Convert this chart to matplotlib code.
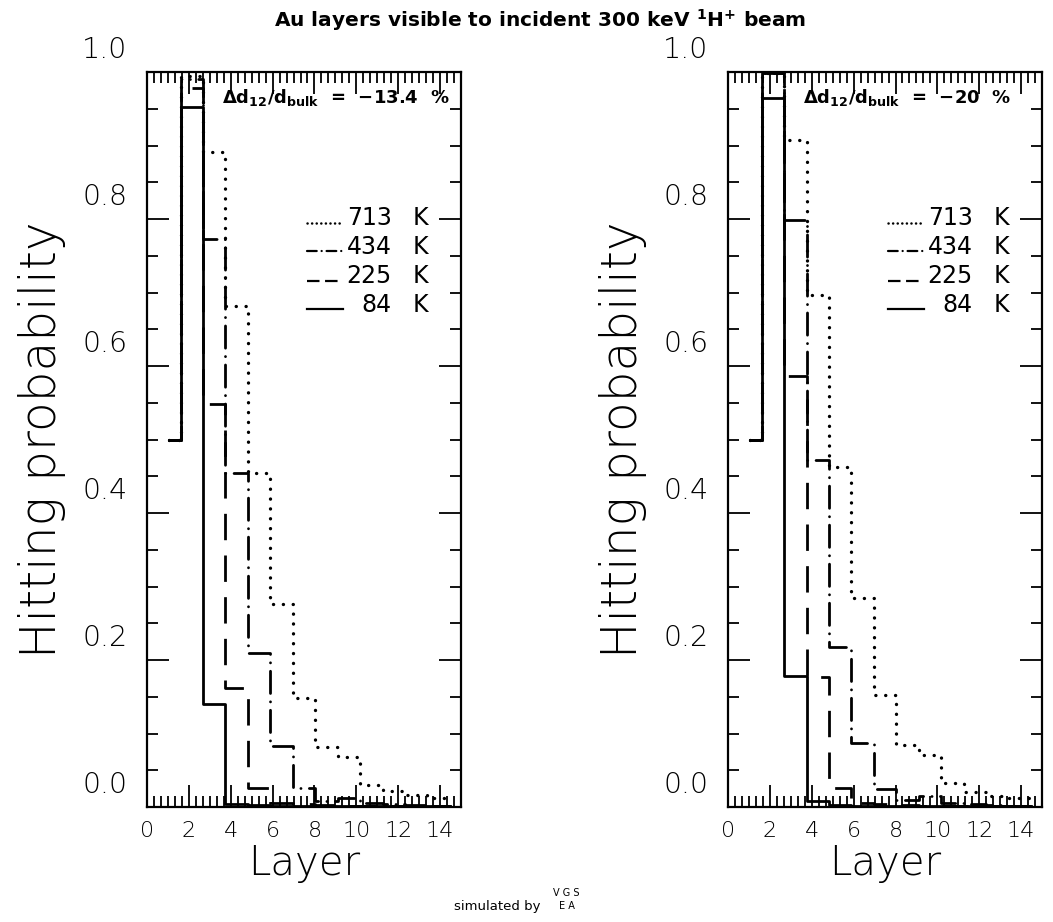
import matplotlib
matplotlib.use("Agg")
import matplotlib.pyplot as plt
import matplotlib.transforms as mtransforms
import numpy as np

plt.rcParams['font.family'] = ['DejaVu Sans']
plt.rcParams['mathtext.fontset'] = 'custom'
plt.rcParams['mathtext.rm'] = 'DejaVu Sans'
plt.rcParams['mathtext.bf'] = 'DejaVu Sans:bold'
plt.rcParams['lines.scale_dashes'] = False

# hitting probability per Au layer, for each sample temperature
layers = np.arange(1, 14)
temps = ['713', '434', '225', '84']

# relaxation -13.4 %
p13_713 = [0.50, 0.995, 0.891, 0.681, 0.454, 0.276, 0.148, 0.082, 0.068, 0.030, 0.022, 0.016, 0.012]
p13_434 = [0.50, 0.990, 0.773, 0.454, 0.210, 0.083, 0.026, 0.008, 0.012, 0.005, 0.004, 0.003, 0.002]
p13_225 = [0.50, 0.978, 0.548, 0.162, 0.026, 0.006, 0.004, 0.003, 0.002, 0.002, 0.001, 0.001, 0.001]
p13_84 = [0.50, 0.953, 0.140, 0.004, 0.003, 0.002, 0.002, 0.001, 0.001, 0.001, 0.001, 0.001, 0.001]

# relaxation -20 %
p20_713 = [0.50, 0.998, 0.907, 0.697, 0.463, 0.284, 0.152, 0.084, 0.071, 0.033, 0.020, 0.015, 0.012]
p20_434 = [0.50, 0.998, 0.799, 0.472, 0.218, 0.087, 0.025, 0.010, 0.015, 0.006, 0.004, 0.003, 0.002]
p20_225 = [0.50, 0.998, 0.586, 0.177, 0.026, 0.006, 0.004, 0.003, 0.002, 0.002, 0.001, 0.001, 0.001]
p20_84 = [0.50, 0.965, 0.178, 0.008, 0.003, 0.002, 0.002, 0.001, 0.001, 0.001, 0.001, 0.001, 0.001]

styles = {
    '713': dict(linestyle=(0, (0.1, 7.0)), linewidth=2.4, dash_capstyle='round'),
    '434': dict(linestyle=(0, (16, 6, 0.1, 6)), linewidth=2.0, dash_capstyle='round'),
    '225': dict(linestyle=(0, (19, 11)), linewidth=2.0),
    '84': dict(linestyle='-', linewidth=2.0),
}
# shorter patterns for the key samples
key_styles = {
    '713': dict(linestyle=(0, (0.1, 3.2)), linewidth=1.8, dash_capstyle='round'),
    '434': dict(linestyle=(0, (7, 3.5, 0.1, 3.5)), linewidth=1.6, dash_capstyle='round'),
    '225': dict(linestyle=(0, (9, 4)), linewidth=1.6),
    '84': dict(linestyle='-', linewidth=1.6),
}

# 14 channels spread over the 0..15 axis, first one starts at the layer centre
xscale = 15 / 14
edges = np.concatenate([[layers[0]], layers + 0.5]) * xscale

fig = plt.figure(figsize=(10.53, 9.22), dpi=100)
ax1 = fig.add_axes([0.1396, 0.1247, 0.2982, 0.7972])
ax2 = fig.add_axes([0.6914, 0.1247, 0.2982, 0.7972])

lift = mtransforms.ScaledTranslation(0, 0.25, fig.dpi_scale_trans)


def panel(ax, series, label):
    for t, vals in zip(temps, series):
        y = np.append(vals, vals[-1])
        ax.plot(edges, y, drawstyle='steps-post', color='black', **styles[t])

    ax.set_xlim(0, 15)
    ax.set_ylim(0, 1)
    ax.set_xticks(np.arange(0, 15, 2))
    ax.set_xticks(np.arange(0, 15.01, 1 / 3), minor=True)
    ax.set_yticks(np.arange(0, 1.01, 0.2))
    ax.set_yticks(np.arange(0, 1.01, 0.05), minor=True)
    ax.set_yticklabels(['0.0', '0.2', '0.4', '0.6', '0.8', '1.0'])
    ax.tick_params(which='both', direction='in', top=True, right=True, width=1.3)
    ax.tick_params(which='major', length=16)
    ax.tick_params(which='minor', length=8)
    ax.tick_params(axis='y', pad=14, labelsize=20.5)
    ax.tick_params(axis='x', pad=10, labelsize=16)
    for lab in ax.get_yticklabels():
        lab.set_transform(lab.get_transform() + lift)
        lab.set_fontweight('light')
    for lab in ax.get_xticklabels():
        lab.set_fontweight('light')
    for s in ax.spines.values():
        s.set_linewidth(1.6)

    ax.set_ylabel('Hitting probability', fontsize=35, labelpad=12, fontweight='light')
    ax.set_xlabel('Layer', fontsize=29, labelpad=2, fontweight='light')

    ax.text(0.24, 0.965, label, transform=ax.transAxes, fontsize=13,
            fontweight='bold', va='center', ha='left')

    # legend drawn by hand: line sample, temperature, unit
    rows = [0.801, 0.762, 0.722, 0.683]
    for t, yy in zip(temps, rows):
        ax.plot([0.51, 0.625], [yy - 0.006, yy - 0.006], transform=ax.transAxes,
                color='black', **key_styles[t])
        ax.text(0.78, yy, t, transform=ax.transAxes, fontsize=17,
                ha='right', va='center')
        ax.text(0.845, yy, 'K', transform=ax.transAxes, fontsize=17,
                ha='left', va='center')


panel(ax1, [p13_713, p13_434, p13_225, p13_84],
      r'$\mathbf{\Delta d_{12}/d_{bulk}}$  =  $\mathbf{-13.4}$  %')
panel(ax2, [p20_713, p20_434, p20_225, p20_84],
      r'$\mathbf{\Delta d_{12}/d_{bulk}}$  =  $\mathbf{-20}$  %')

fig.text(0.513, 0.978, r'Au layers visible to incident 300 keV $^{\mathbf{1}}$H$^{\mathbf{+}}$ beam',
         ha='center', va='center', fontsize=14.5, fontweight='bold')

fig.text(0.513, 0.017, 'simulated by', ha='right', va='center', fontsize=9.5)
fig.text(0.538, 0.031, 'V G S', ha='center', va='center', fontsize=7)
fig.text(0.538, 0.017, 'E A', ha='center', va='center', fontsize=7)

fig.savefig('out.png', dpi=100)
